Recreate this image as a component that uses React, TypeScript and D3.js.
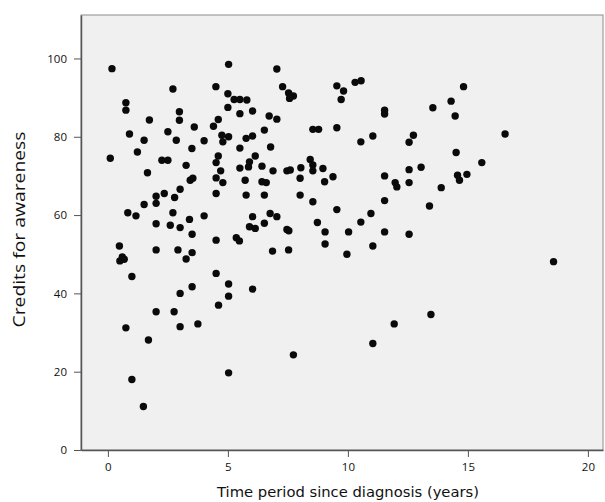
import React, { useEffect, useRef } from "react";
import * as d3 from "d3";

const WIDTH = 605;
const HEIGHT = 502;

// years since diagnosis
const years = [
  0.17, 5.03, 2.71, 4.5, 5.0, 5.26, 5.5, 5.79, 0.75, 0.75, 5.0, 2.98, 2.98, 5.5, 1.73, 4.6, 4.4, 3.6, 2.5, 0.9,
  4.75, 5.03, 4.79, 1.51, 2.85, 4.01, 5.5, 3.5, 1.23, 0.1, 2.25, 2.5, 4.6, 4.51, 3.26, 5.5, 1.65, 4.7, 4.51, 3.43,
  3.54, 4.79, 7.04, 7.28, 7.53, 7.73, 7.57, 6.03, 6.72, 7.04, 9.54, 9.82, 9.72, 10.3, 10.55, 11.53, 11.53, 6.52, 8.54, 8.78,
  9.54, 11.04, 10.54, 5.76, 6.03, 6.78, 6.14, 5.9, 5.86, 6.42, 6.88, 7.46, 7.6, 8.04, 8.43, 8.54, 8.54, 8.96, 11.53, 5.72,
  6.42, 6.6, 8.01, 9.38, 9.03, 14.82, 14.3, 13.54, 14.47, 16.55, 12.73, 12.55, 14.51, 15.58, 12.55, 13.05, 14.57, 14.96, 14.65, 11.97,
  12.04, 12.55, 13.89, 3.01, 4.51, 2.35, 2.01, 2.01, 2.78, 1.51, 0.83, 1.17, 2.71, 4.01, 2.01, 2.6, 3.01, 3.4, 3.51, 4.51,
  5.35, 5.48, 0.48, 2.01, 2.92, 3.51, 3.26, 0.5, 0.68, 0.6, 1.0, 4.51, 5.03, 3.51, 3.01, 5.03, 4.61, 5.76, 6.52, 8.01,
  8.54, 9.54, 11.53, 10.96, 10.54, 11.53, 11.04, 6.03, 6.76, 7.04, 6.52, 5.9, 6.14, 8.73, 9.05, 10.03, 7.46, 7.54, 9.05, 9.96,
  6.86, 7.53, 6.03, 13.4, 12.55, 18.57, 2.01, 2.76, 0.75, 3.01, 3.75, 1.69, 1.0, 1.48, 5.03, 7.73, 11.04, 11.93, 13.46,
];

// credits for awareness
const credits = [
  97.4, 98.5, 92.2, 92.8, 91.0, 89.5, 89.5, 89.4, 88.7, 86.8, 87.5, 86.4, 84.2, 85.9, 84.3, 84.4, 82.7, 82.5, 81.3, 80.7,
  80.4, 80.0, 78.7, 79.1, 79.1, 79.0, 77.1, 77.0, 76.1, 74.5, 74.0, 74.0, 75.1, 73.4, 72.7, 72.0, 70.8, 71.3, 69.5, 68.9,
  69.4, 68.3, 97.3, 92.8, 91.2, 90.4, 89.8, 86.6, 85.3, 84.5, 93.0, 91.7, 89.5, 93.9, 94.3, 86.8, 85.8, 81.7, 81.9, 81.9,
  82.3, 80.2, 78.7, 79.6, 80.2, 77.4, 75.1, 73.6, 72.3, 72.5, 71.3, 71.3, 71.5, 72.1, 74.2, 72.8, 71.3, 71.9, 70.0, 68.9,
  68.5, 68.3, 69.4, 69.8, 68.5, 92.8, 89.1, 87.4, 85.3, 80.7, 80.4, 78.6, 76.0, 73.4, 71.6, 72.2, 70.2, 70.4, 68.9, 68.3,
  67.2, 68.3, 67.0, 66.6, 65.5, 65.5, 64.8, 63.0, 64.5, 62.7, 60.6, 59.8, 60.6, 59.8, 57.8, 57.4, 56.8, 58.9, 55.1, 53.6,
  54.2, 53.4, 52.1, 51.1, 51.1, 50.4, 48.8, 48.3, 48.7, 49.3, 44.3, 45.1, 42.4, 41.7, 40.0, 39.3, 37.0, 65.1, 65.1, 65.1,
  63.4, 61.4, 63.7, 60.4, 58.2, 55.7, 52.1, 59.6, 60.4, 59.6, 57.9, 57.0, 56.6, 58.1, 55.7, 55.7, 56.3, 56.0, 52.6, 50.0,
  50.8, 51.1, 41.1, 62.3, 55.1, 48.1, 35.3, 35.3, 31.2, 31.5, 32.2, 28.1, 18.0, 11.1, 19.7, 24.3, 27.2, 32.2, 34.6,
];

const xTicks = [0, 5, 10, 15, 20];
const yTicks = [0, 20, 40, 60, 80, 100];

const plot = { left: 81, right: 603, top: 15, bottom: 450 };

export default function App() {
  const svgRef = useRef<SVGSVGElement>(null);

  useEffect(() => {
    const svg = d3.select(svgRef.current);
    svg.selectAll("*").remove();

    const x = d3.scaleLinear().domain([-1.12, 20.63]).range([plot.left, plot.right]);
    const y = d3.scaleLinear().domain([0, 111.1]).range([plot.bottom, plot.top]);

    // plot background + frame
    svg
      .append("rect")
      .attr("x", plot.left)
      .attr("y", plot.top)
      .attr("width", plot.right - plot.left)
      .attr("height", plot.bottom - plot.top)
      .attr("fill", "#f0f0f0")
      .attr("stroke", "#8c8c8c")
      .attr("stroke-width", 1);

    // Points
    const points = years.map((t, i) => ({ t, c: credits[i] }));
    svg
      .append("g")
      .selectAll("circle")
      .data(points)
      .join("circle")
      .attr("cx", (d) => x(d.t))
      .attr("cy", (d) => y(d.c))
      .attr("r", 3.7)
      .attr("fill", "#0a0a0a");

    // Axes
    const yAxis = svg
      .append("g")
      .attr("transform", `translate(${plot.left},0)`)
      .call(d3.axisLeft(y).tickValues(yTicks).tickSize(7).tickPadding(7).tickSizeOuter(0));

    const xAxis = svg
      .append("g")
      .attr("transform", `translate(0,${plot.bottom})`)
      .call(d3.axisBottom(x).tickValues(xTicks).tickSize(7).tickPadding(6).tickSizeOuter(0));

    [yAxis, xAxis].forEach((a) => {
      a.select(".domain").attr("stroke", "#555").attr("stroke-width", 1.5);
      a.selectAll(".tick line").attr("stroke", "#555");
      a.selectAll(".tick text")
        .attr("fill", "#111")
        .style("font-family", "'Open Sans', sans-serif")
        .style("font-size", "11.5px");
    });

    // Axis titles
    svg
      .append("text")
      .attr("transform", `translate(25,${(plot.top + plot.bottom) / 2 - 3}) rotate(-90)`)
      .attr("text-anchor", "middle")
      .style("font-family", "'Open Sans', sans-serif")
      .style("font-size", "16px")
      .attr("textLength", 196)
      .attr("lengthAdjust", "spacingAndGlyphs")
      .attr("fill", "#111")
      .text("Credits for awareness");

    svg
      .append("text")
      .attr("x", 348)
      .attr("y", 497)
      .attr("text-anchor", "middle")
      .style("font-family", "'DejaVu Sans', sans-serif")
      .style("font-size", "14px")
      .attr("textLength", 262)
      .attr("lengthAdjust", "spacingAndGlyphs")
      .attr("fill", "#111")
      .text("Time period since diagnosis (years)");
  }, []);

  return (
    <svg
      ref={svgRef}
      width={WIDTH}
      height={HEIGHT}
      style={{ position: "absolute", left: 0, top: 0, background: "#fff" }}
    ></svg>
  );
}
